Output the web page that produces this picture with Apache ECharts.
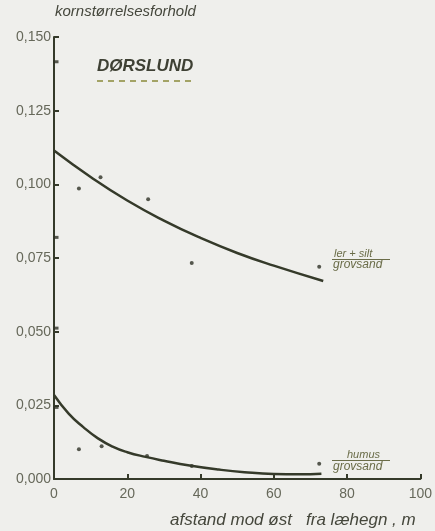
<!DOCTYPE html>
<html>
<head>
<meta charset="utf-8">
<script src="https://cdn.jsdelivr.net/npm/echarts@6/dist/echarts.min.js"></script>
<style>
  html, body { margin: 0; padding: 0; background: #efefec; }
  #main { width: 435px; height: 531px; }
</style>
</head>
<body>
<div id="main"></div>
<script>
var chart = echarts.init(document.getElementById('main'));

// ler+silt / grovsand
var lerDots = [[6.8, 0.0986], [12.7, 0.1024], [25.7, 0.0949], [37.6, 0.0733], [72.4, 0.0720]];
var lerCurve = [[0, 0.1115], [10, 0.1025], [20, 0.0945], [30, 0.0877], [40, 0.0818],
  [50, 0.0767], [60, 0.0724], [73.5, 0.0672]];
// humus / grovsand
var humusDots = [[6.8, 0.0101], [13, 0.0111], [25.4, 0.0078], [37.6, 0.0044], [72.4, 0.0052]];
var humusCurve = [[0, 0.0285], [4, 0.0222], [8, 0.0176], [12, 0.0138], [16, 0.0110], [20, 0.0091],
  [25, 0.0075], [30, 0.0062], [37, 0.0046], [45, 0.0032], [52, 0.0023], [60, 0.0017],
  [67, 0.0016], [73, 0.0018]];
// marks on the y axis at x = 0
var axisMarks = [[0, 0.1416], [0, 0.0820], [0, 0.0512], [0, 0.0243]];

var xTicks = [0, 20, 40, 60, 80, 100];

var ink = '#353a2a';
var txt = '#66685a';
var font = 'Liberation Sans';

var option = {
  backgroundColor: '#efefec',
  animation: false,
  grid: { left: 54, right: 11, top: 37, bottom: 52 },
  xAxis: {
    type: 'value', min: 0, max: 100, interval: 20,
    axisLine: { show: true, lineStyle: { color: ink, width: 2 } },
    axisTick: { show: true, inside: true, length: 5, lineStyle: { color: ink, width: 2 } },
    splitLine: { show: false },
    axisLabel: { color: txt, fontFamily: font, fontSize: 14, margin: 8,
      formatter: function (v) { return xTicks.indexOf(v) >= 0 ? String(v) : ''; } }
  },
  yAxis: {
    type: 'value', min: 0, max: 0.15, interval: 0.025,
    axisLine: { show: true, lineStyle: { color: ink, width: 2 } },
    axisTick: { show: true, inside: true, length: 5, lineStyle: { color: ink, width: 2 } },
    splitLine: { show: false },
    axisLabel: { color: txt, fontFamily: font, fontSize: 14, margin: 3,
      formatter: function (v) { return v.toFixed(3).replace('.', ','); } }
  },
  series: [
    { type: 'line', data: lerCurve, smooth: true, symbol: 'none',
      lineStyle: { color: ink, width: 2.5 } },
    { type: 'line', data: humusCurve, smooth: true, symbol: 'none',
      lineStyle: { color: ink, width: 2.5 } },
    { type: 'scatter', data: lerDots, symbolSize: 4, itemStyle: { color: '#2e3126' } },
    { type: 'scatter', data: humusDots, symbolSize: 4, itemStyle: { color: '#2e3126' } },
    { type: 'scatter', data: axisMarks, symbol: 'rect', symbolSize: [5, 3], symbolOffset: [2, 0],
      itemStyle: { color: '#2e3126' } }
  ],
  graphic: [
    { type: 'text', left: 55, top: 4,
      style: { text: 'kornstørrelsesforhold', fill: '#45473c', font: 'italic 15px "Liberation Sans"' } },
    { type: 'text', left: 170, top: 512,
      style: { text: 'afstand mod øst   fra læhegn , m', fill: '#45473c', font: 'italic 17px "Liberation Sans"' } },
    { type: 'text', left: 97, top: 58,
      style: { text: 'DØRSLUND', fill: '#3e4034', font: 'italic bold 17px "Liberation Sans"' } },
    { type: 'line', shape: { x1: 97, y1: 81, x2: 196, y2: 81 },
      style: { stroke: '#8a8a3a', lineWidth: 1.5, lineDash: [6, 5] } },
    { type: 'text', left: 334, top: 248,
      style: { text: 'ler + silt', fill: '#6a6c48', font: 'italic 11px "Liberation Sans"' } },
    { type: 'line', shape: { x1: 332, y1: 259.5, x2: 390, y2: 259.5 },
      style: { stroke: '#6a6c48', lineWidth: 1 } },
    { type: 'text', left: 333, top: 259,
      style: { text: 'grovsand', fill: '#6a6c48', font: 'italic 12px "Liberation Sans"' } },
    { type: 'text', left: 347, top: 449,
      style: { text: 'humus', fill: '#6a6c48', font: 'italic 11px "Liberation Sans"' } },
    { type: 'line', shape: { x1: 332, y1: 460.5, x2: 390, y2: 460.5 },
      style: { stroke: '#6a6c48', lineWidth: 1 } },
    { type: 'text', left: 333, top: 461,
      style: { text: 'grovsand', fill: '#6a6c48', font: 'italic 12px "Liberation Sans"' } }
  ]
};
chart.setOption(option);
</script>
</body>
</html>
